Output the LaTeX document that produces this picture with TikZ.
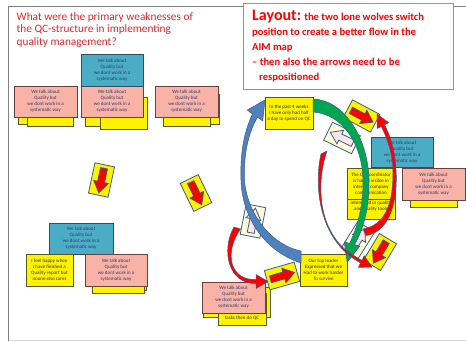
\documentclass[tikz,border=0pt]{standalone}
\usepackage{fontspec}
\setmainfont{Carlito}
\usetikzlibrary{shadows}
\definecolor{tealc}{HTML}{4BACC6}
\definecolor{tealb}{HTML}{2F4F5F}
\definecolor{pinkc}{HTML}{F9B3A6}
\definecolor{pinkb}{HTML}{6B4040}
\definecolor{yelb}{HTML}{595926}
\definecolor{notetext}{HTML}{2E3A6B}
\definecolor{titlered}{HTML}{E0282C}
\definecolor{layoutred}{HTML}{E87070}
\definecolor{blueA}{HTML}{4F81BD}
\definecolor{blueB}{HTML}{385D8A}
\definecolor{greenA}{HTML}{00A650}
\definecolor{cream}{HTML}{FFFCD8}
\definecolor{palepink}{HTML}{FCE4EC}
\newcommand\notefont{\fontsize{5}{6}\selectfont}
\tikzset{
  note/.style={draw, line width=0.6pt, inner sep=0pt, align=center, font=\notefont, text=notetext,
    drop shadow={shadow xshift=1.2pt, shadow yshift=-1.2pt, fill=black!35, opacity=1}},
  tealnote/.style={note, fill=tealc, draw=tealb},
  pinknote/.style={note, fill=pinkc, draw=pinkb},
  yelnote/.style={note, fill=yellow, draw=yelb, text=black!80},
  notetxt/.style={inner sep=0pt, align=center, font=\notefont, text=black!80},
  titletxt/.style={inner sep=0pt, anchor=base west, font=\fontsize{11.3}{12.5}\selectfont, text=titlered},
  layouttxt/.style={inner sep=0pt, anchor=base west, font=\fontsize{10.6}{15}\selectfont\bfseries, text=red},
  iconedge/.style={draw=blueB, line width=0.8pt},
  swoosh/.style={draw=blueB, line width=0.5pt},
  pics/sticon/.style 2 args={code={
    \draw[iconedge, fill=#1] (-15.5,-10) rectangle (15.5,10);
    \draw[iconedge, fill=#2] (-12,-3.5) -- (2,-3.5) -- (2,-7.5) -- (13,0) -- (2,7.5) -- (2,3.5) -- (-12,3.5) -- cycle;
  }}
}
\begin{document}
\begin{tikzpicture}[x=1pt,y=-1pt]
\useasboundingbox (0,0) rectangle (466,342);
\fill[white] (0,0) rectangle (466,342);
% slide frame
\draw[black!15, line width=0.8pt] (8,340.5) -- (466,340.5);
\draw[black!50, line width=0.8pt] (8,6) -- (466,6);
\draw[black!50, line width=0.8pt] (8,6) -- (8,341);

% title
\node[titletxt] (q1) at (16.5,20.5) {What were the primary weaknesses of};
\node[titletxt] (q2) at (16.5,33) {the QC-structure in implementing};
\node[titletxt] (q3) at (16.5,45.5) {quality management?};

% layout box
\node[draw=layoutred, line width=0.7pt, fill=white, minimum width=210, minimum height=86, inner sep=0pt] (layoutbox) at (348,46) {};
\node[layouttxt] (l1) at (252,21) {{\fontsize{16}{16}\selectfont Layout:} the two lone wolves switch};
\node[layouttxt] (l2) at (252,36) {position to create a better flow in the};
\node[layouttxt] (l3) at (252,51) {AIM map};
\node[layouttxt] (l4) at (252,66) {– then also the arrows need to be};
\node[layouttxt] (l5) at (259,81) {respositioned};

% top-left group
\node[yelnote, minimum width=50, minimum height=32] (yA1) at (43,108) {};
\node[yelnote, minimum width=46, minimum height=31] (yA2) at (50,110.5) {};
\node[yelnote, minimum width=55, minimum height=31] (yB1) at (112.5,110.5) {};
\node[yelnote, minimum width=47, minimum height=32] (yB2) at (123.5,113) {};
\node[yelnote, minimum width=47, minimum height=30] (yC2) at (195.5,109) {};
\node[yelnote, minimum width=47, minimum height=30] (yC1) at (186.5,111) {};
\node[pinknote, minimum width=63, minimum height=31] (p1) at (45.5,101.5) {We talk about\\Quality but\\we dont work in a\\systematic way};
\node[pinknote, minimum width=62, minimum height=31] (p2) at (112,101.5) {We talk about\\Quality but\\we dont work in a\\systematic way};
\node[pinknote, minimum width=63, minimum height=31] (p3) at (186.5,101.5) {We talk about\\Quality but\\we dont work in a\\systematic way};
\node[tealnote, minimum width=62, minimum height=32] (t1) at (112,70) {We talk about\\Quality but\\we dont work in a\\systematic way};

% bottom-left group
\node[yelnote, minimum width=51, minimum height=32] (yD2) at (120.5,274) {};
\node[yelnote, minimum width=52, minimum height=32] (yD1) at (118,277) {};
\node[tealnote, minimum width=64, minimum height=31] (t2) at (81,238.5) {We talk about\\Quality but\\we dont work in a\\systematic way};
\node[yelnote, minimum width=47, minimum height=32] (happy) at (49.5,270) {I feel happy when\\I have finished a\\Quality report but\\noone else cares};
\node[pinknote, minimum width=62, minimum height=32] (p4) at (116,270) {We talk about\\Quality but\\we dont work in a\\systematic way};

% bottom-middle group
\node[yelnote, minimum width=67, minimum height=30] (yE1) at (236.5,302) {};
\node[yelnote, minimum width=48, minimum height=32] (yE2) at (242,309) {};
\node[notetxt] (tasks) at (242,318.5) {tasks then do QC};
\node[pinknote, minimum width=63, minimum height=31] (p5) at (233.5,297.5) {We talk about\\Quality but\\we dont work in a\\systematic way};

% right group
\node[yelnote, minimum width=48, minimum height=32] (past) at (289,113) {In the past 4 weeks\\I have only had half\\a day to spend on QC};
\node[yelnote, minimum width=48, minimum height=34] (yF) at (371,202) {};
\node[notetxt] (yFt) at (371,206.5) {interested in quality\\and quality tools};
\node[yelnote, minimum width=48, minimum height=31] (qc) at (371,183.5) {The QC coordinator\\is hardly visible in\\internal company\\communication};
\node[tealnote, minimum width=62, minimum height=30] (t3) at (402,152) {We talk about\\Quality but\\we dont work in a\\systematic way};
\node[yelnote, minimum width=47, minimum height=32] (yG) at (433.5,191) {};
\node[pinknote, minimum width=63, minimum height=32] (p6) at (433.5,184) {We talk about\\Quality but\\we dont work in a\\systematic way};
\node[yelnote, minimum width=47, minimum height=32] (leader) at (323.5,270) {Our top leader\\Expressed that we\\Had to work harder\\To survive};

% small arrow icons
\pic[rotate=-102] at (101.5,180) {sticon={yellow}{red}};
\pic[rotate=-64] at (196,193) {sticon={yellow}{red}};
\pic[rotate=79] at (253,221) {sticon={cream}{palepink}};
\pic[rotate=154] at (342,138) {sticon={cream}{palepink}};
\pic[rotate=-28] at (361.5,116) {sticon={yellow}{red}};
\pic[rotate=-121] at (380,252) {sticon={yellow}{red}};
\pic[rotate=58] at (358,240) {sticon={cream}{palepink}};
\pic[rotate=16] at (282,276) {sticon={yellow}{red}};

% blue swoosh (from top leader up to the past-4-weeks note)
\filldraw[swoosh, fill=blueA]
  (252.5,114) .. controls (245,130) and (240,150) .. (241,180)
  .. controls (242,215) and (262,250) .. (301,263)
  -- (301,251)
  .. controls (274,246) and (247,216) .. (244.5,180)
  .. controls (243.5,152) and (249,132) .. (257.5,117)
  -- (262.7,121) -- (265,100) -- (247.3,110) -- cycle;

% green arrow
\filldraw[swoosh, fill=greenA]
  (313,99) .. controls (345,100) and (369,140) .. (369,182)
  .. controls (369,212) and (362,232) .. (354.4,244.6)
  -- (359.8,246) -- (347.2,262.4) -- (344.2,242) -- (349.6,243.4)
  .. controls (357,228) and (363,208) .. (363,182)
  .. controls (363,145) and (343,114) .. (313,112) -- cycle;

% red arrow 1
\filldraw[swoosh, fill=red]
  (234,227) .. controls (221,250) and (228,284) .. (256,283.6)
  -- (256,288.5) -- (268,281.5) -- (256,274.5) -- (256,279.4)
  .. controls (231,281) and (223,254) .. (240.5,229) -- cycle;

% red arrow 2
\filldraw[swoosh, fill=red]
  (321,154) .. controls (314,185) and (318,240) .. (360.6,262.9)
  -- (358.4,267.4) -- (372,267) -- (364.2,255.8) -- (362,260.3)
  .. controls (318.5,241) and (314.5,187) .. (327,151) -- cycle;

% red arrow 3
\filldraw[swoosh, fill=red]
  (366,235.5) .. controls (390,232) and (398,200) .. (396,170)
  .. controls (395,150) and (390,135) .. (384.5,124.8)
  -- (388.7,122.7) -- (377,114) -- (377.1,128.5) -- (381.3,126.4)
  .. controls (388,140) and (393,155) .. (393,172)
  .. controls (393,205) and (385,225) .. (363,229) -- cycle;
\end{tikzpicture}
\end{document}
